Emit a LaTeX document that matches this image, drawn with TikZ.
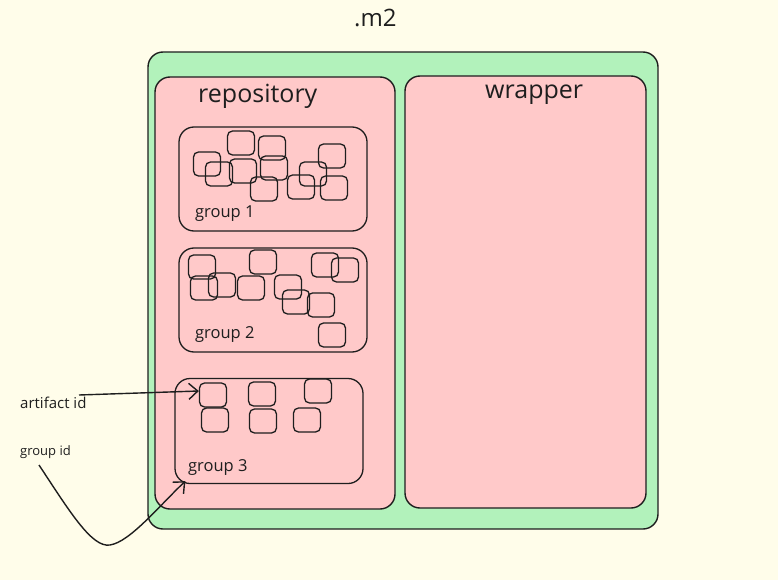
\documentclass[tikz,border=0pt]{standalone}
\usepackage{fontspec}
\setmainfont{Open Sans}
\usetikzlibrary{arrows.meta,calc}
\definecolor{bgc}{HTML}{FFFDEA}
\definecolor{greenc}{HTML}{B2F2BB}
\definecolor{pinkc}{HTML}{FFC9C9}
\definecolor{inkc}{HTML}{1E1E1E}
\tikzset{
  bigbox/.style={draw=inkc, line width=1.4pt, rounded corners=15pt, inner sep=0pt},
  grpbox/.style={draw=inkc, line width=1.3pt, rounded corners=15pt, inner sep=0pt, minimum width=188pt, minimum height=104pt},
  sq/.style={draw=inkc, line width=1.3pt, rounded corners=5pt, inner sep=0pt, minimum width=27pt, minimum height=24pt},
  lbl/.style={inner sep=0pt, text=inkc, anchor=west},
  arr/.style={draw=inkc, line width=1.4pt, -{Straight Barb[length=9pt,width=16pt,line width=1.4pt]}}
}
\begin{document}
\begin{tikzpicture}[x=1pt,y=-1pt]
\useasboundingbox[fill=bgc] (0,0) rectangle (778,580);
\node[bigbox, fill=greenc, minimum width=510pt, minimum height=477pt] (m2box) at (403,290.5) {};
\node[bigbox, fill=pinkc, minimum width=240pt, minimum height=432pt] (repo) at (275,293) {};
\node[bigbox, fill=pinkc, minimum width=241pt, minimum height=432pt] (wrap) at (525.5,292) {};
\node[lbl, font=\fontsize{24}{28}\selectfont] (m2) at (354,18) {.m2};
\node[lbl, font=\fontsize{25}{29}\selectfont] (repot) at (198,96) {repository};
\node[lbl, font=\fontsize{25}{29}\selectfont] (wrapt) at (485,95) {wrapper};
% groups
\node[grpbox] (g1) at (273,179) {};
\node[grpbox] (g2) at (273,300) {};
\node[grpbox, minimum height=105pt] (g3) at (269,431) {};
\node[lbl, font=\fontsize{16.5}{19}\selectfont] (g1t) at (195,214) {group 1};
\node[lbl, font=\fontsize{16.5}{19}\selectfont] (g2t) at (195,335) {group 2};
\node[lbl, font=\fontsize{16.5}{19}\selectfont] (g3t) at (188,468) {group 3};
% group 1 squares
\node[sq] (a1) at (241,143) {};
\node[sq] (a2) at (207,164) {};
\node[sq] (a3) at (219,174) {};
\node[sq] (a4) at (243,171) {};
\node[sq] (a5) at (272,148) {};
\node[sq] (a6) at (274,168) {};
\node[sq] (a7) at (264,189) {};
\node[sq] (a8) at (301,187) {};
\node[sq] (a9) at (313,174) {};
\node[sq] (a10) at (332,156) {};
\node[sq] (a11) at (334,188) {};
% group 2 squares
\node[sq] (b1) at (202,267) {};
\node[sq] (b2) at (204,288) {};
\node[sq] (b3) at (222,285) {};
\node[sq] (b4) at (251,288) {};
\node[sq] (b5) at (263,262) {};
\node[sq] (b6) at (288,287) {};
\node[sq] (b7) at (296,302) {};
\node[sq] (b8) at (321,305) {};
\node[sq] (b9) at (325,265) {};
\node[sq] (b10) at (345,270) {};
\node[sq] (b11) at (332,335) {};
% group 3 squares
\node[sq] (c1) at (213,395) {};
\node[sq] (c2) at (262,394) {};
\node[sq] (c3) at (318,391) {};
\node[sq] (c4) at (215,420) {};
\node[sq] (c5) at (263,421) {};
\node[sq] (c6) at (307,420) {};
% labels outside
\node[lbl, font=\fontsize{15}{18}\selectfont] (art) at (20,403) {artifact id};
\node[lbl, font=\fontsize{13}{15}\selectfont] (gid) at (20,452) {group id};
\coordinate (artstart) at (79,395);
\coordinate (gidstart) at (39,465);
\draw[arr] (artstart) -- ($(c1.west)+(0,-4)$);
\draw[arr] (gidstart) .. controls (70,512) and (92,548) .. (110,545)
  .. controls (130,542) and (160,505) .. ($(g3.south west)+(11,-3)$);
\end{tikzpicture}
\end{document}
